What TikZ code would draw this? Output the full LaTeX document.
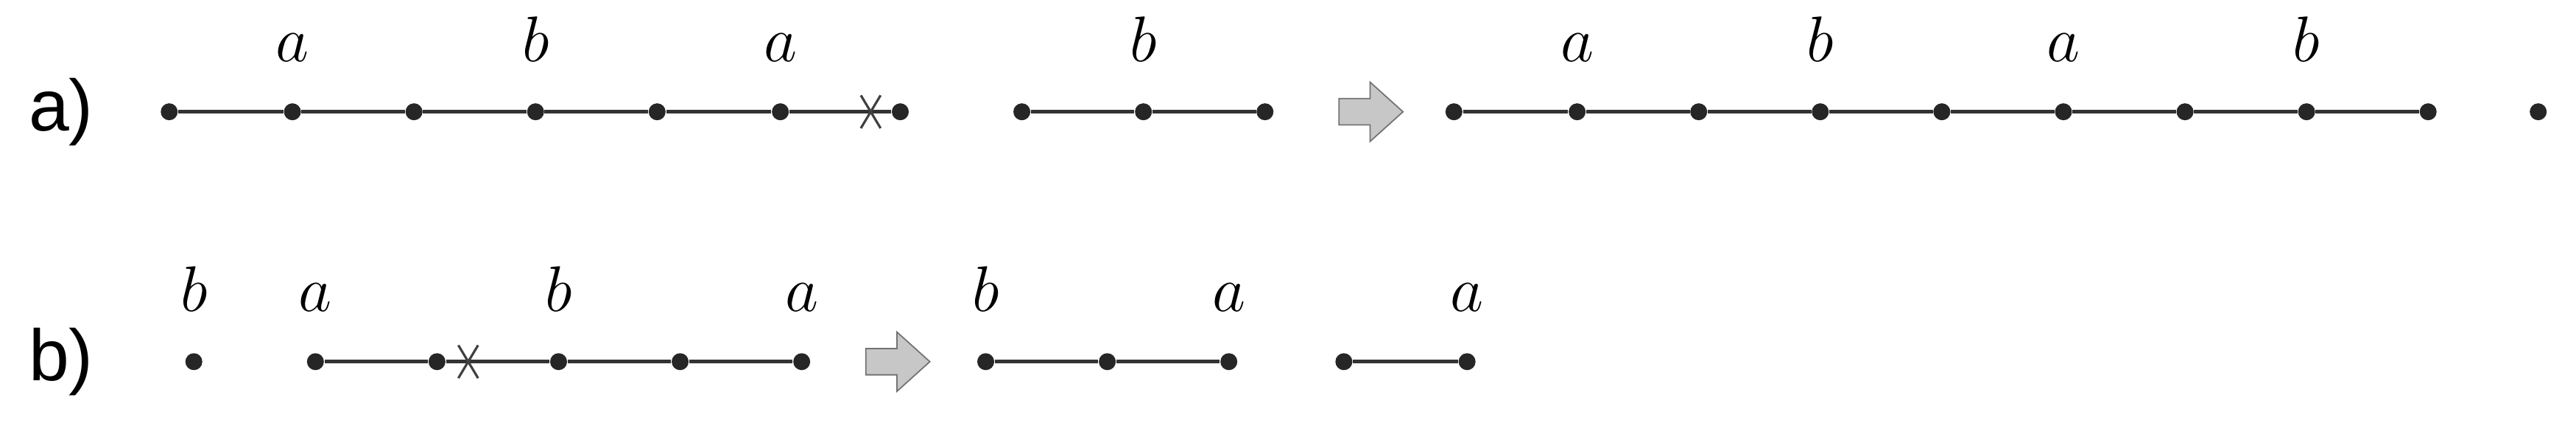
\documentclass[tikz,border=0pt]{standalone}
\usepackage{fontspec}
\setsansfont{Liberation Sans}
\begin{document}
\begin{tikzpicture}[x=0.0223cm,y=-0.0223cm,
  sm/.style={circle,fill=black!85,inner sep=0pt,minimum size=0.23cm},
  bg/.style={circle,fill=black!85,inner sep=0pt,minimum size=0.46cm},
  ln/.style={line width=1.3pt,black!80},
  lab/.style={font=\fontsize{26}{26}\selectfont, anchor=base},
  rowlab/.style={font=\sffamily\fontsize{28}{28}\selectfont, anchor=west},
  arr/.style={fill=black!22,draw=black!55,line width=0.5pt},
  crs/.style={line width=0.9pt,black!75}]
\useasboundingbox (0,0) rectangle (1568,257);
\node[rowlab] (la) at (12,68) {a)};
\node[rowlab] (lb) at (12,220) {b)};
% row a
\foreach \n/\x/\t in {a1/103/s,a2/178/b,a3/252/s,a4/326/b,a5/400/s,a6/475/b,a7/548/s,
  a8/622/s,a9/696/b,a10/770/s,
  c1/885/s,c2/960/b,c3/1034/s,c4/1108/b,c5/1182/s,c6/1256/b,c7/1330/s,c8/1404/b,c9/1478/s,c10/1545/s}{
  \ifx\t b \node[bg] (\n) at (\x,68) {};\else \node[sm] (\n) at (\x,68) {};\fi}
\draw[ln] (a1)--(a2)--(a3)--(a4)--(a5)--(a6)--(a7);
\draw[ln] (a8)--(a9)--(a10);
\draw[ln] (c1)--(c2)--(c3)--(c4)--(c5)--(c6)--(c7)--(c8)--(c9);
\foreach \n/\l in {a2/a,a4/b,a6/a,a9/b,c2/a,c4/b,c6/a,c8/b}{
  \node[lab] at ([yshift=0.68cm]\n.center) {$\l$};}
\coordinate (xa) at (530,68);
\draw[crs] ([shift={(-6,-10)}]xa)--([shift={(6,10)}]xa) ([shift={(-6,10)}]xa)--([shift={(6,-10)}]xa);
\draw[arr] (815,60)--(834,60)--(834,50)--(854,68)--(834,86)--(834,76)--(815,76)--cycle;
% row b
\foreach \n/\x/\t in {b1/118/b,b2/192/b,b3/266/s,b4/340/b,b5/414/s,b6/488/b,
  d1/600/b,d2/674/s,d3/748/b,e1/818/s,e2/893/b}{
  \ifx\t b \node[bg] (\n) at (\x,220) {};\else \node[sm] (\n) at (\x,220) {};\fi}
\draw[ln] (b2)--(b3)--(b4)--(b5)--(b6);
\draw[ln] (d1)--(d2)--(d3);
\draw[ln] (e1)--(e2);
\foreach \n/\l in {b1/b,b2/a,b4/b,b6/a,d1/b,d3/a,e2/a}{
  \node[lab] at ([yshift=0.68cm]\n.center) {$\l$};}
\coordinate (xb) at (285,220);
\draw[crs] ([shift={(-6,-10)}]xb)--([shift={(6,10)}]xb) ([shift={(-6,10)}]xb)--([shift={(6,-10)}]xb);
\draw[arr] (527,212)--(546,212)--(546,202)--(566,220)--(546,238)--(546,228)--(527,228)--cycle;
\end{tikzpicture}
\end{document}
